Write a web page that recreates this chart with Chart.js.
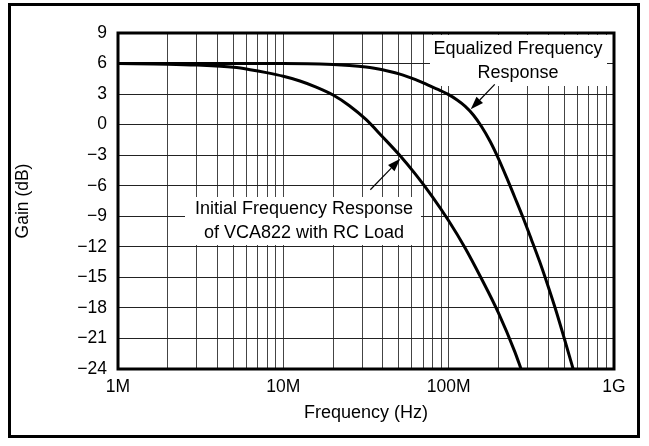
<!DOCTYPE html>
<html>
<head>
<meta charset="utf-8">
<script src="https://cdn.jsdelivr.net/npm/chart.js@4/dist/chart.umd.min.js"></script>
<style>
    html, body { margin: 0; padding: 0; background: #fff; }
</style>
</head>
<body>
<canvas id="gainChart" width="649" height="446"></canvas>
<script>
// 频率响应数据（Hz, dB）
const initialFreq = [1e6, 2e6, 3e6, 5e6, 6.3e6, 7.9e6, 10e6, 12.6e6, 15.8e6, 20e6, 25.1e6, 31.6e6, 39.8e6, 50.1e6, 63.1e6, 79.4e6, 100e6, 126e6, 158e6, 200e6, 251e6, 274e6];
const initialGain = [6, 5.94, 5.85, 5.63, 5.4, 5.11, 4.75, 4.29, 3.69, 2.91, 1.86, 0.51, -1.19, -2.94, -4.89, -7.04, -9.44, -12.14, -15.14, -18.49, -22.29, -24];

const eqFreq = [1e6, 10e6, 20e6, 25.1e6, 31.6e6, 35.5e6, 39.8e6, 44.7e6, 50.1e6, 56.2e6, 63.1e6, 70.8e6, 79.4e6, 89.1e6, 100e6, 112e6, 126e6, 141e6, 158e6, 178e6, 200e6, 224e6, 251e6, 282e6, 316e6, 355e6, 398e6, 447e6, 501e6, 566e6];
const eqGain = [6, 6, 5.9, 5.81, 5.66, 5.54, 5.39, 5.2, 4.98, 4.72, 4.42, 4.08, 3.7, 3.35, 2.95, 2.45, 1.8, 0.95, -0.18, -1.63, -3.33, -5.18, -7.13, -9.15, -11.25, -13.45, -15.8, -18.33, -21.03, -24];

// 对数坐标网格
const freqTicks = [
    1e6, 2e6, 3e6, 4e6, 5e6, 6e6, 7e6, 8e6, 9e6,
    1e7, 2e7, 3e7, 4e7, 5e7, 6e7, 7e7, 8e7, 9e7,
    1e8, 2e8, 3e8, 4e8, 5e8, 6e8, 7e8, 8e8, 9e8,
    1e9
];
const decadeLabels = { 1e6: "1M", 1e7: "10M", 1e8: "100M", 1e9: "1G" };

// 注释文字与箭头指向的点
const eqLabel = ["Equalized Frequency", "Response"];
const eqArrowTip = [136e6, 1.5];
const initialLabel = ["Initial Frequency Response", "of VCA822 with RC Load"];
const initialArrowTip = [51e6, -3.35];

const FONT = '"Liberation Sans", Arial, Helvetica, sans-serif';

function toPoints(xs, ys) {
    return xs.map((x, i) => ({ x: x, y: ys[i] }));
}

function drawArrow(ctx, x0, y0, x1, y1) {
    const ang = Math.atan2(y1 - y0, x1 - x0);
    const len = 13, half = 4.5;
    const bx = x1 - len * Math.cos(ang), by = y1 - len * Math.sin(ang);
    ctx.beginPath();
    ctx.moveTo(x0, y0);
    ctx.lineTo(bx, by);
    ctx.lineWidth = 1.2;
    ctx.strokeStyle = "#000";
    ctx.stroke();
    ctx.beginPath();
    ctx.moveTo(x1, y1);
    ctx.lineTo(bx + half * Math.sin(ang), by - half * Math.cos(ang));
    ctx.lineTo(bx - half * Math.sin(ang), by + half * Math.cos(ang));
    ctx.closePath();
    ctx.fillStyle = "#000";
    ctx.fill();
}

const annotationPlugin = {
    id: "annotations",
    beforeDatasetsDraw(chart) {
        const ctx = chart.ctx;
        ctx.save();
        ctx.fillStyle = "#fff";
        ctx.fillRect(430, 35, 177, 51);
        ctx.fillRect(185, 197, 236, 48);
        ctx.fillStyle = "#000";
        ctx.font = "18px " + FONT;
        ctx.textAlign = "center";
        ctx.textBaseline = "middle";
        ctx.fillText(eqLabel[0], 518, 49);
        ctx.fillText(eqLabel[1], 518, 73);
        ctx.fillText(initialLabel[0], 304, 209);
        ctx.fillText(initialLabel[1], 304, 233);
        ctx.restore();
    },
    afterDatasetsDraw(chart) {
        const ctx = chart.ctx;
        const xs = chart.scales.x, ys = chart.scales.y;
        ctx.save();
        const ex = xs.getPixelForValue(eqArrowTip[0]), ey = ys.getPixelForValue(eqArrowTip[1]);
        drawArrow(ctx, ex + 24, ey - 25, ex, ey);
        const ix = xs.getPixelForValue(initialArrowTip[0]), iy = ys.getPixelForValue(initialArrowTip[1]);
        drawArrow(ctx, ix - 30, iy + 31, ix, iy);
        ctx.restore();
    },
    afterDraw(chart) {
        const ctx = chart.ctx;
        const a = chart.chartArea;
        ctx.save();
        ctx.strokeStyle = "#000";
        ctx.lineWidth = 3;
        ctx.strokeRect(a.left, a.top, a.right - a.left, a.bottom - a.top);
        ctx.strokeRect(9.5, 4.5, 629, 432);
        ctx.restore();
    }
};

new Chart(document.getElementById("gainChart"), {
    type: "line",
    data: {
        datasets: [
            {
                label: "Initial Frequency Response",
                data: toPoints(initialFreq, initialGain),
                borderColor: "#000",
                borderWidth: 3,
                pointRadius: 0,
                cubicInterpolationMode: "monotone",
                fill: false
            },
            {
                label: "Equalized Frequency Response",
                data: toPoints(eqFreq, eqGain),
                borderColor: "#000",
                borderWidth: 3,
                pointRadius: 0,
                cubicInterpolationMode: "monotone",
                fill: false
            }
        ]
    },
    options: {
        responsive: false,
        animation: false,
        devicePixelRatio: 1,
        layout: {
            padding: { left: 0, top: 33, right: 35, bottom: 0 }
        },
        plugins: {
            legend: { display: false },
            tooltip: { enabled: false }
        },
        scales: {
            x: {
                type: "logarithmic",
                min: 1e6,
                max: 1e9,
                afterBuildTicks: scale => {
                    scale.ticks = freqTicks.map(v => ({ value: v }));
                },
                afterFit: scale => { scale.height = 77; },
                grid: {
                    color: "#444",
                    lineWidth: 1,
                    drawTicks: false
                },
                border: { display: false },
                ticks: {
                    autoSkip: false,
                    maxRotation: 0,
                    padding: 8,
                    color: "#000",
                    font: { family: FONT, size: 17.5 },
                    callback: v => decadeLabels[v] || ""
                },
                title: {
                    display: true,
                    text: "Frequency (Hz)",
                    color: "#000",
                    font: { family: FONT, size: 18 },
                    padding: { top: 0, bottom: 22 }
                }
            },
            y: {
                min: -24,
                max: 9,
                afterFit: scale => { scale.width = 118; },
                grid: {
                    color: "#222",
                    lineWidth: 1,
                    drawTicks: false
                },
                border: { display: false },
                ticks: {
                    stepSize: 3,
                    padding: 11,
                    color: "#000",
                    font: { family: FONT, size: 17.5 },
                    callback: v => (v < 0 ? "\u2212" + Math.abs(v) : String(v))
                },
                title: {
                    display: true,
                    text: "Gain (dB)",
                    color: "#000",
                    font: { family: FONT, size: 17.5 },
                    padding: { top: 13, bottom: 0 }
                }
            }
        }
    },
    plugins: [annotationPlugin]
});
</script>
</body>
</html>
